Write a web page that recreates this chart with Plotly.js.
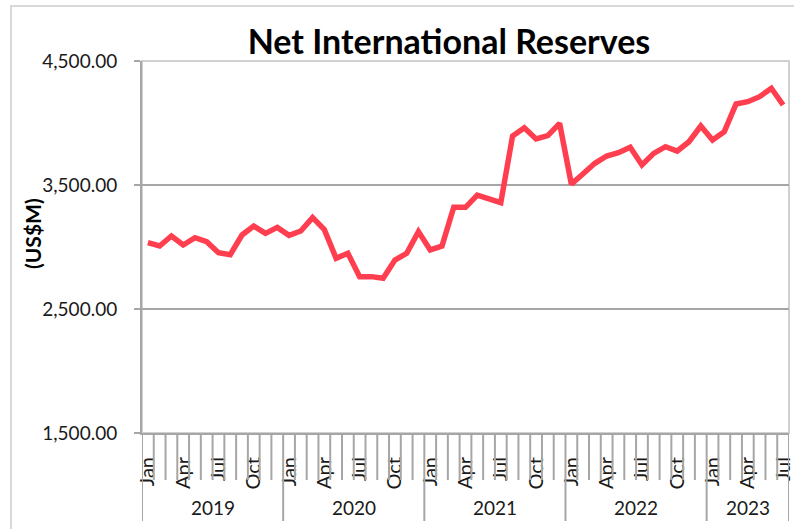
<!DOCTYPE html>
<html>
<head>
<meta charset="utf-8">
<script src="https://cdn.plot.ly/plotly-3.0.1.min.js"></script>
<style>
  html, body { margin: 0; padding: 0; background: #ffffff; }
  #wrap { position: relative; width: 794px; height: 529px; overflow: hidden; }
  #chart { width: 794px; height: 529px; }
  #frame { position: absolute; left: 10px; top: 5px; width: 820px; height: 560px;
           border: 2px solid #d9d9d9; pointer-events: none; box-sizing: border-box; }
</style>
</head>
<body>
<div id="wrap">
  <div id="chart"></div>
  <div id="frame"></div>
</div>
<script>
// ---- data ----
const monthNames = ['Jan','Feb','Mar','Apr','May','Jun','Jul','Aug','Sep','Oct','Nov','Dec'];
const years = [2019, 2020, 2021, 2022, 2023];
const monthsPerYear = [12, 12, 12, 12, 7];
const labeledMonths = ['Jan','Apr','Jul','Oct'];
const reserves = [
  3035, 3008, 3089, 3016, 3075, 3043, 2954, 2938, 3097, 3169, 3110, 3158,
  3094, 3129, 3237, 3140, 2909, 2949, 2761, 2761, 2748, 2895, 2949, 3124,
  2976, 3008, 3320, 3320, 3419, 3387, 3357, 3895, 3962, 3871, 3898, 3997,
  3507, 3591, 3675, 3734, 3761, 3804, 3661, 3755, 3809, 3774, 3849, 3976,
  3863, 3930, 4153, 4172, 4212, 4280, 4145
];
const yTicks = [1500, 2500, 3500, 4500];

// ---- build categories ----
const idx = [], monthLbl = [], yearOf = [];
let k = 0;
years.forEach((yr, yi) => {
  for (let m = 0; m < monthsPerYear[yi]; m++) {
    idx.push(k); monthLbl.push(monthNames[m]); yearOf.push(yr); k++;
  }
});
const tickvals = [], ticktext = [];
idx.forEach((i) => { if (labeledMonths.includes(monthLbl[i])) { tickvals.push(i); ticktext.push(monthLbl[i]); } });

const FONT = 'Lato, "Open Sans", sans-serif';
const GRAY = '#a6a6a6';
const plotH = 372;
const shortLen = 47 / plotH, longLen = 88 / plotH;

const shapes = [{
  type: 'rect', xref: 'paper', yref: 'paper', x0: 0, x1: 1, y0: 0, y1: 1,
  line: { color: '#d0d0d0', width: 2 }, layer: 'below'
}];
// boundaries between months; year boundaries are longer
const yearStarts = new Set();
let acc = 0;
monthsPerYear.forEach(n => { yearStarts.add(acc); acc += n; });
yearStarts.add(acc);
for (let b = 0; b <= idx.length; b++) {
  const isYear = yearStarts.has(b);
  shapes.push({
    type: 'line', xref: 'x', yref: 'paper', x0: b - 0.5, x1: b - 0.5,
    y0: 0, y1: -(isYear ? longLen : shortLen),
    line: { color: GRAY, width: 2 }
  });
}

const annotations = [];
acc = 0;
years.forEach((yr, yi) => {
  const mid = acc + (monthsPerYear[yi] - 1) / 2;
  annotations.push({
    x: mid, xref: 'x', y: -(74 / plotH), yref: 'paper', text: String(yr),
    showarrow: false, xanchor: 'center', yanchor: 'middle',
    font: { family: FONT, size: 19, color: '#1a1a1a' }
  });
  acc += monthsPerYear[yi];
});
annotations.push({
  x: (32 - 142) / 647, xref: 'paper', y: (433 - 234) / plotH, yref: 'paper',
  text: '<b>(US$M)</b>', textangle: -90, showarrow: false,
  xanchor: 'center', yanchor: 'middle',
  font: { family: FONT, size: 21, color: '#000000' }
});

const trace = {
  x: idx, y: reserves, type: 'scatter', mode: 'lines',
  line: { color: '#ff3f4f', width: 5.5 },
  hoverinfo: 'skip'
};

const layout = {
  width: 794, height: 529,
  margin: { l: 142, r: 5, t: 61, b: 96 },
  paper_bgcolor: 'rgba(0,0,0,0)', plot_bgcolor: '#ffffff',
  showlegend: false,
  title: {
    text: '<b>Net International Reserves</b>',
    xref: 'container', x: 449 / 794, xanchor: 'center',
    yref: 'container', y: 1 - 42 / 529, yanchor: 'middle',
    font: { family: FONT, size: 34, color: '#000000' }
  },
  xaxis: {
    range: [-0.5, idx.length - 0.5], showgrid: false, zeroline: false,
    showline: true, linecolor: GRAY, linewidth: 2,
    tickmode: 'array', tickvals: tickvals, ticktext: ticktext,
    tickangle: -90, ticks: '', ticklabelstandoff: 14,
    tickfont: { family: FONT, size: 20, color: '#1a1a1a' },
    fixedrange: true
  },
  yaxis: {
    range: [1500, 4500], tickmode: 'array', tickvals: yTicks,
    tickformat: ',.2f', showgrid: true, gridcolor: GRAY, gridwidth: 2,
    zeroline: false, showline: true, linecolor: GRAY, linewidth: 2,
    ticks: 'outside', ticklen: 6, tickcolor: GRAY, tickwidth: 2,
    ticklabelstandoff: 13,
    tickfont: { family: FONT, size: 19, color: '#1a1a1a' },
    fixedrange: true
  },
  shapes: shapes,
  annotations: annotations
};

Plotly.newPlot('chart', [trace], layout, { displayModeBar: false, staticPlot: true });
</script>
</body>
</html>
